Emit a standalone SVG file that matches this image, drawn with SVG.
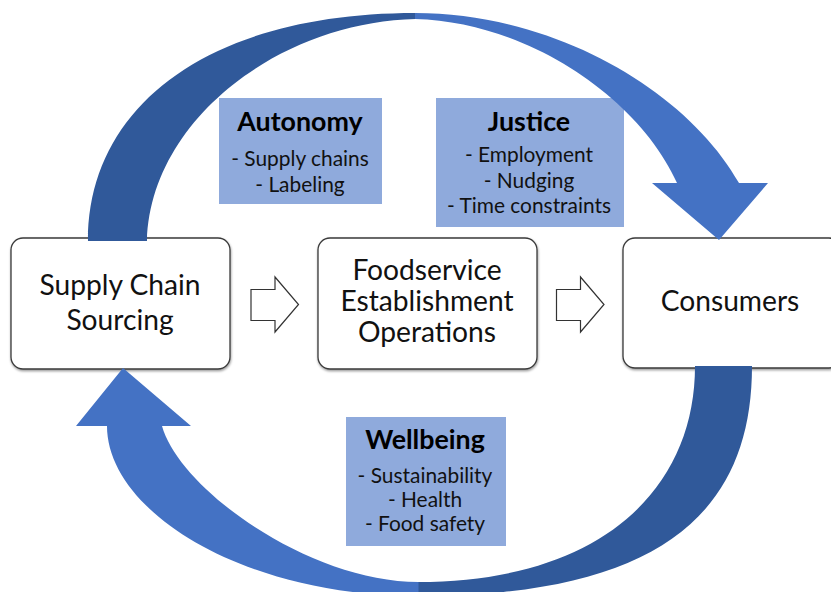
<svg xmlns="http://www.w3.org/2000/svg" width="831" height="592" viewBox="0 0 831 592">
  <defs>
    <filter id="shadow" x="-5%" y="-5%" width="110%" height="115%">
      <feDropShadow dx="0.5" dy="1.5" stdDeviation="1" flood-color="#000" flood-opacity="0.4"/>
    </filter>
    <style>
      .node { fill: #ffffff; stroke: #3a3a3a; stroke-width: 1.3; }
      .node-text { font-family: Lato, "Open Sans", "Liberation Sans", sans-serif; font-size: 28.2px; fill: #111; text-anchor: middle; }
      .topic { fill: #8faadc; }
      .topic-title { font-family: Lato, "Open Sans", "Liberation Sans", sans-serif; font-size: 26.8px; font-weight: bold; fill: #000; text-anchor: middle; }
      .topic-item { font-family: Lato, "Open Sans", "Liberation Sans", sans-serif; font-size: 20.9px; fill: #111; text-anchor: middle; }
      .step { fill: #ffffff; stroke: #333; stroke-width: 1.2; stroke-linejoin: miter; }
      .arc-dark { fill: #30599a; }
      .arc-light { fill: #4472c4; }
    </style>
  </defs>

  <!-- process nodes -->
  <g id="node-supply">
    <rect class="node" x="11" y="238" width="219" height="131" rx="12" filter="url(#shadow)"/>
    <text class="node-text" x="120" y="295">Supply Chain</text>
    <text class="node-text" x="120" y="330">Sourcing</text>
  </g>
  <g id="node-foodservice">
    <rect class="node" x="318" y="238" width="219" height="131" rx="12" filter="url(#shadow)"/>
    <text class="node-text" x="427" y="280">Foodservice</text>
    <text class="node-text" x="427" y="311">Establishment</text>
    <text class="node-text" x="427" y="342">Operations</text>
  </g>
  <g id="node-consumers">
    <rect class="node" x="623" y="238" width="218" height="130" rx="12" filter="url(#shadow)"/>
    <text class="node-text" x="730" y="311">Consumers</text>
  </g>

  <!-- principle boxes -->
  <g id="topic-autonomy">
    <rect class="topic" x="219" y="98" width="163" height="106"/>
    <text class="topic-title" x="300" y="131">Autonomy</text>
    <text class="topic-item" x="300" y="166">- Supply chains</text>
    <text class="topic-item" x="300" y="192">- Labeling</text>
  </g>
  <g id="topic-justice">
    <rect class="topic" x="436" y="98" width="188" height="129"/>
    <text class="topic-title" x="529" y="131">Justice</text>
    <text class="topic-item" x="529" y="162">- Employment</text>
    <text class="topic-item" x="529" y="188">- Nudging</text>
    <text class="topic-item" x="529" y="213">- Time constraints</text>
  </g>
  <g id="topic-wellbeing">
    <rect class="topic" x="346" y="417" width="160" height="129"/>
    <text class="topic-title" x="425" y="449">Wellbeing</text>
    <text class="topic-item" x="425" y="483">- Sustainability</text>
    <text class="topic-item" x="425" y="507">- Health</text>
    <text class="topic-item" x="425" y="531">- Food safety</text>
  </g>

  <!-- connectors -->
  <g id="connectors">
    <!-- block arrows between the process steps -->
    <path class="step" d="M251,289.5 H275 V277 L298.5,304.5 L275,332 V320.5 H251 Z"/>
    <path class="step" d="M556.5,289.5 H580.5 V277 L604,304.5 L580.5,332 V320.5 H556.5 Z"/>

    <!-- upper curved arrow: sourcing to consumers -->
    <path class="arc-dark" d="M88,241 C88,105 210,13 415.5,13 L415.5,19 C280,22 150,120 147,241 Z"/>
    <path class="arc-light" d="M415,13 C560,13 690,95 739,183 L768,183 L719,240 L652,183 L677,183 C640,100 530,22 415,19 Z"/>

    <!-- lower curved arrow: consumers back to sourcing -->
    <path class="arc-dark" d="M695,366 L752,366 C752,520 650,596 418,596 L418,582 C600,582 695,490 695,366 Z"/>
    <path class="arc-light" d="M418.5,596 C240,596 107,510 107,426 L76,426 L123,368 L191,426 L162,426 C180,490 310,582 418.5,582 Z"/>
  </g>
</svg>
